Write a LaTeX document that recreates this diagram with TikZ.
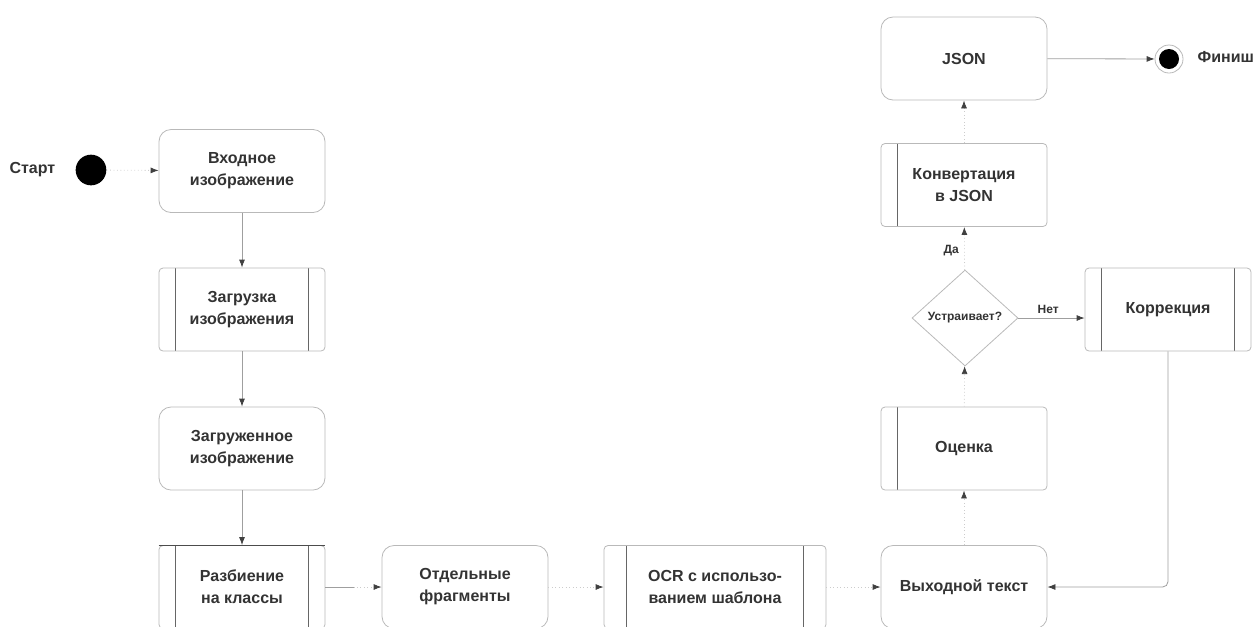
\documentclass[tikz,border=0pt]{standalone}
\usepackage{fontspec}
\setmainfont{Liberation Sans}
\usetikzlibrary{arrows.meta, shapes.geometric, calc}

\tikzset{
  term/.style={draw=gray!55, line width=0.6pt, rounded corners=9pt,
    minimum width=124.5pt, minimum height=62.25pt, align=center,
    text=black!80, font=\bfseries\fontsize{12}{16.5}\selectfont},
  proc/.style={term, rounded corners=3pt},
  barl/.style={proc, path picture={
    \draw[black!60, line width=0.7pt]
      ([xshift=12.5pt]path picture bounding box.north west) --
      ([xshift=12.5pt]path picture bounding box.south west);}},
  barlr/.style={proc, path picture={
    \draw[black!60, line width=0.7pt]
      ([xshift=#1]path picture bounding box.north west) --
      ([xshift=#1]path picture bounding box.south west)
      ([xshift=-#1]path picture bounding box.north east) --
      ([xshift=-#1]path picture bounding box.south east);}},
  barlr/.default=12.5pt,
  lbl/.style={text=black!80, font=\bfseries\fontsize{12}{14}\selectfont},
  small/.style={text=black!80, font=\bfseries\fontsize{9}{11}\selectfont},
  link/.style={draw=gray!75, line width=0.6pt},
  flow/.style={link, -{Latex[length=6pt,width=4.5pt,color=black!75]}},
  dflow/.style={flow, draw=gray!40, dotted}
}

\begin{document}
\begin{tikzpicture}[x=0.75pt, y=-0.75pt]
  \useasboundingbox (0,0) rectangle (1255,626);
  \clip (0,0) rectangle (1255,626);

  % left column
  \node[circle, fill=black, minimum size=23pt, inner sep=0pt] (start) at (91,170) {};
  \node[lbl, anchor=east] (startlbl) at (60,170) {Старт};
  \node[term] (input) at (242,171) {Входное\\изображение};
  \node[barlr] (load) at (242,309.5) {Загрузка\\изображения};
  \node[term] (loaded) at (242,448.5) {Загруженное\\изображение};
  \node[barlr] (split) at (242,587) {Разбиение\\на классы};

  % bottom row
  \node[term] (frag) at (465,587) {Отдельные\\фрагменты};
  \node[barlr=17pt, minimum width=166.5pt] (ocr) at (715,587) {OCR с использо-\\ванием шаблона};
  \node[term] (out) at (964,587) {Выходной текст};

  % right column
  \node[barl] (eval) at (964,448.5) {Оценка};
  \node[diamond, draw=gray!55, line width=0.6pt, inner sep=0pt,
    minimum width=79.5pt, minimum height=72pt, small] (dec) at (965,318) {Устраивает?};
  \node[barlr] (corr) at (1168,309.5) {Коррекция};
  \node[barl] (conv) at (964,185) {Конвертация\\в JSON};
  \node[term] (json) at (964,58.5) {JSON};
  \node[circle, draw=gray!55, line width=0.6pt, minimum size=21pt, inner sep=0pt,
    path picture={\fill[black] (path picture bounding box.center) circle (7.5pt);}] (fin) at (1169,59) {};
  \node[lbl, anchor=west] (finlbl) at (1193,57) {Финиш};

  % connectors
  \draw[dflow] (start) -- (input);
  \draw[flow] (input) -- (load);
  \draw[flow] (load) -- (loaded);
  \draw[flow] (loaded) -- (split);
  \draw[link] (split.east) -- ($(split.east)!0.5!(frag.west)$);
  \draw[dflow] ($(split.east)!0.5!(frag.west)$) -- (frag.west);
  \draw[dflow] (frag) -- (ocr);
  \draw[dflow] (ocr) -- (out);
  \draw[dflow] (out) -- (eval);
  \draw[dflow] (eval) -- (dec);
  \draw[dflow] (dec) -- node[small, pos=0.45, xshift=-10pt] (yes) {Да} (conv);
  \draw[flow] (dec.east) -- node[small, above, pos=0.45] (no) {Нет} (dec.east -| corr.west);
  \draw[flow, rounded corners=4pt] (corr.south) |- (out.east);
  \draw[dflow] (conv) -- (json);
  \draw[flow] (json) -- (fin);

  % darker top edge
  \draw[black!70, line width=0.8pt] (split.north west) -- (split.north east);
\end{tikzpicture}
\end{document}
